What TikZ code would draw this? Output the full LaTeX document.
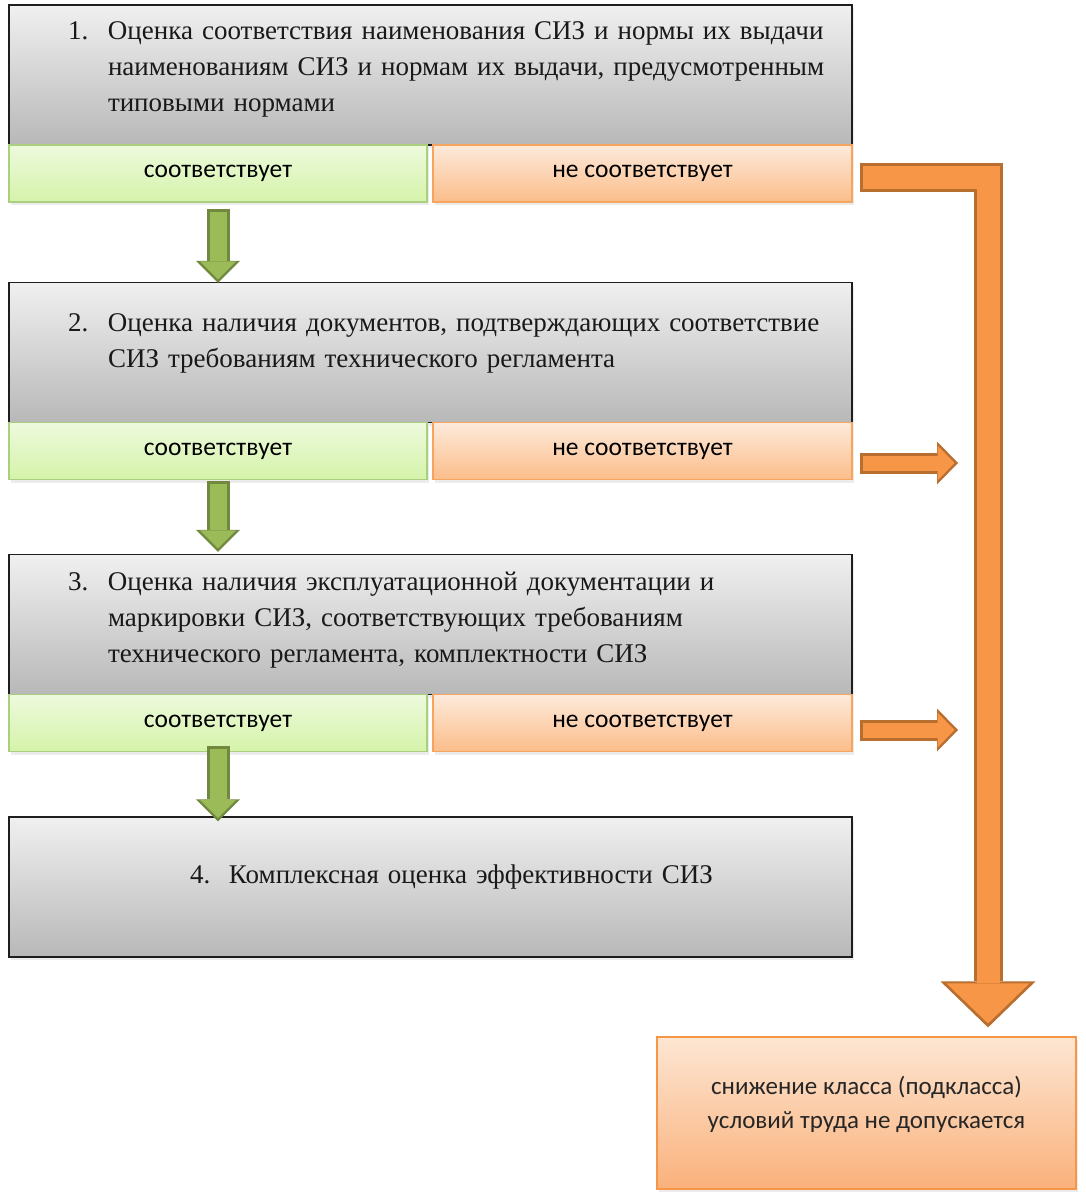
\documentclass[tikz,border=0pt]{standalone}
\usepackage{fontspec}
\newfontfamily\timesfont{Liberation Serif}
\newfontfamily\calibrifont{Carlito}
\usetikzlibrary{arrows.meta, shadows}

\definecolor{graytop}{HTML}{F0F0F0}
\definecolor{graybottom}{HTML}{B8B8B8}
\definecolor{boxline}{HTML}{1E1E1E}
\definecolor{yestop}{HTML}{EDFADC}
\definecolor{yesbottom}{HTML}{D5F3AA}
\definecolor{yesline}{HTML}{A9CF7F}
\definecolor{notop}{HTML}{FDEADB}
\definecolor{nobottom}{HTML}{FBBD8A}
\definecolor{noline}{HTML}{F7A45F}
\definecolor{restop}{HTML}{FDE6D3}
\definecolor{resbottom}{HTML}{FAB17B}
\definecolor{greenfill}{HTML}{9BBB59}
\definecolor{greenline}{HTML}{71893F}
\definecolor{orangefill}{HTML}{F79646}
\definecolor{orangeline}{HTML}{B86E2F}

\newcommand{\blockarrow}[2]{\draw[#1outer] #2; \draw[#1inner] #2;}

\begin{document}
\begin{tikzpicture}[x=1pt, y=-1pt]
\useasboundingbox (0,0) rectangle (1086,1200);

\begin{scope}[every node/.style={rectangle, inner sep=0pt, line width=1.2pt,
                drop shadow={shadow xshift=2pt, shadow yshift=-3pt, opacity=0.15}},
              evalbox/.style={draw=boxline, top color=graytop, bottom color=graybottom,
                minimum width=843pt, minimum height=140pt, text width=725pt, inner xsep=59pt,
                align=left, text=black!90, font=\timesfont\fontsize{27}{36}\selectfont},
              yesbox/.style={draw=yesline, top color=yestop, bottom color=yesbottom,
                minimum width=418pt, minimum height=57pt, font=\calibrifont\fontsize{25.5}{30}\selectfont},
              nobox/.style={draw=noline, top color=notop, bottom color=nobottom,
                minimum width=419pt, minimum height=57pt, font=\calibrifont\fontsize{25.5}{30}\selectfont}]
    \node (eval1) at (430.5, 75) [evalbox] {\begin{tabular}{@{}p{40pt}@{}l@{}}
        1. & Оценка соответствия наименования СИЗ и нормы их выдачи\\
           & наименованиям СИЗ и нормам их выдачи, предусмотренным\\
           & типовыми нормами\\[14pt]\end{tabular}};
    \node (yes1) at (218, 173.5) [yesbox] {соответствует};
    \node (no1) at (642.5, 173.5) [nobox] {не соответствует};

    \node (eval2) at (430.5, 352.5) [evalbox] {\begin{tabular}{@{}p{40pt}@{}l@{}}
        2. & Оценка наличия документов, подтверждающих соответствие\\
           & СИЗ требованиям технического регламента\\[20pt]\end{tabular}};
    \node (yes2) at (218, 451) [yesbox] {соответствует};
    \node (no2) at (642.5, 451) [nobox] {не соответствует};

    \node (eval3) at (430.5, 624.5) [evalbox] {\begin{tabular}{@{}p{40pt}@{}l@{}}
        3. & Оценка наличия эксплуатационной документации и\\
           & маркировки СИЗ, соответствующих требованиям\\
           & технического регламента, комплектности СИЗ\\[11pt]\end{tabular}};
    \node (yes3) at (218, 723) [yesbox] {соответствует};
    \node (no3) at (642.5, 723) [nobox] {не соответствует};

    \node (eval4) at (430.5, 887) [evalbox, text width=481pt, inner xsep=181pt] {\begin{tabular}{@{}p{39pt}@{}l@{}}
        4. & Комплексная оценка эффективности СИЗ\\[22pt]\end{tabular}};

    \node (result) at (866.5, 1113) [draw=orangefill, top color=restop, bottom color=resbottom,
        minimum width=419pt, minimum height=152pt, text=black!85,
        font=\calibrifont\fontsize{25}{34}\selectfont]
        {\begin{tabular}{@{}c@{}}снижение класса (подкласса)\\условий труда не допускается\\[16pt]\end{tabular}};
\end{scope}

\coordinate (corner) at (988, 177.5);
\coordinate (in2) at (958, 463);
\coordinate (in3) at (958, 730);

\begin{scope}[greenouter/.style={draw=greenline, line width=23pt,
                -{Triangle[width=44pt, length=22pt, line width=0pt]}},
              greeninner/.style={draw=greenfill, line width=17pt, shorten <=3pt, shorten >=3.5pt,
                -{Triangle[width=36pt, length=18pt, line width=0pt]}},
              orangeouter/.style={draw=orangeline, line width=21pt,
                -{Triangle[width=43pt, length=21pt, line width=0pt]}},
              orangeinner/.style={draw=orangefill, line width=15pt, shorten <=3pt, shorten >=3.5pt,
                -{Triangle[width=35pt, length=17pt, line width=0pt]}},
              bendouter/.style={draw=orangeline, line width=29pt,
                -{Triangle[width=95pt, length=46pt, line width=0pt]}},
              bendinner/.style={draw=orangefill, line width=23pt, shorten <=3pt, shorten >=4pt,
                -{Triangle[width=83pt, length=40pt, line width=0pt]}}]
    \blockarrow{green}{([yshift=-6pt]yes1.south) -- ([yshift=-1pt]yes1.south |- eval2.north)}
    \blockarrow{green}{([yshift=-0.5pt]yes2.south) -- ([yshift=2pt]yes2.south |- eval3.north)}
    \blockarrow{green}{([yshift=6.5pt]yes3.south) -- ([yshift=-5pt]yes3.south |- eval4.north)}

    \blockarrow{orange}{([xshift=7pt]no2.east |- in2) -- (in2)}
    \blockarrow{orange}{([xshift=7pt]no3.east |- in3) -- (in3)}

    \blockarrow{bend}{([xshift=7pt]no1.east |- corner) -- (corner) -- ([yshift=9pt]corner |- result.north)}
\end{scope}
\end{tikzpicture}
\end{document}
